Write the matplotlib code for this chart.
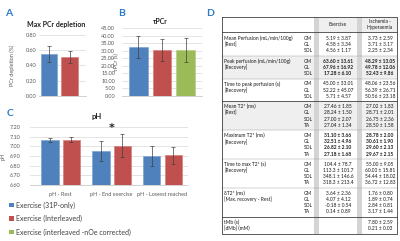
import matplotlib
matplotlib.use('Agg')
import matplotlib.pyplot as plt
from matplotlib.patches import Rectangle
from matplotlib.ticker import FormatStrFormatter, MultipleLocator

plt.rcParams['font.family'] = ['Lato', 'DejaVu Sans']

# ---------------- data ----------------
series_names = ["Exercise (31P-only)", "Exercise (Interleaved)",
                "Exercise (interleaved -nOe corrected)"]
series_colors = ['#4F81BD', '#C0504D', '#9BBB59']
edge_colors = ['#7FA3D0', '#D6807E', '#B7CF88']

pcr_depl = [0.55, 0.51]
pcr_depl_err = [0.105, 0.083]

tau_pcr = [32.4, 30.4, 30.4]
tau_pcr_err = [7.0, 7.3, 8.0]

ph_categories = ["pH - Rest", "pH - End exercise", "pH - Lowest reached"]
ph_31p = [7.065, 6.955, 6.900]
ph_31p_err = [0.02, 0.105, 0.100]
ph_inter = [7.070, 7.007, 6.910]
ph_inter_err = [0.025, 0.117, 0.088]

tbl_params = ["Mean Perfusion (mL/min/100g)", "Peak perfusion (mL/min/100g)",
              "Time to peak perfusion (s)", "Mean T2* (ms)", "Maximum T2* (ms)",
              "Time to max T2* (s)", "δT2* (ms)"]
tbl_conditions = ["[Rest]", "[Recovery]", "[Recovery]", "[Rest]", "[Recovery]",
                  "[Recovery]", "[Max. recovery - Rest]"]
tbl_muscles = [["GM", "GL", "SOL"], ["GM", "GL", "SOL"], ["GM", "GL", "SOL"],
               ["GM", "GL", "SOL", "TA"], ["GM", "GL", "SOL", "TA"],
               ["GM", "GL", "SOL", "TA"], ["GM", "GL", "SOL", "TA"]]
tbl_exercise = [["5.19 ± 3.87", "4.58 ± 3.34", "4.56 ± 1.17"],
                ["63.60 ± 13.61", "67.96 ± 16.92", "17.28 ± 6.10"],
                ["45.00 ± 33.01", "52.22 ± 45.07", "5.71 ± 4.57"],
                ["27.46 ± 1.85", "28.24 ± 1.50", "27.00 ± 2.07", "27.04 ± 1.34"],
                ["31.10 ± 3.66", "32.51 ± 4.96", "26.82 ± 2.10", "27.18 ± 1.68"],
                ["104.4 ± 78.7", "113.3 ± 101.7", "348.1 ± 146.6", "318.3 ± 213.4"],
                ["3.64 ± 2.36", "4.07 ± 4.12", "-0.18 ± 0.54", "0.14 ± 0.89"]]
tbl_ischemia = [["3.73 ± 2.59", "3.71 ± 3.17", "2.25 ± 2.34"],
                ["48.29 ± 13.05", "49.78 ± 12.06", "52.43 ± 9.86"],
                ["48.06 ± 23.56", "56.39 ± 26.71", "50.56 ± 23.18"],
                ["27.02 ± 1.83", "28.71 ± 2.01", "26.75 ± 2.36", "28.50 ± 1.58"],
                ["28.78 ± 2.00", "30.61 ± 1.90", "29.60 ± 2.13", "29.67 ± 2.15"],
                ["55.00 ± 9.05", "60.00 ± 15.81", "54.44 ± 18.02", "36.72 ± 12.83"],
                ["1.76 ± 0.80", "1.89 ± 0.74", "2.84 ± 0.81", "3.17 ± 1.44"]]
tbl_bold = [False, True, False, False, True, False, False]
tbl_shaded = [False, True, False, True, False, False, False]
mb_labels = ["tMb (s)", "[dMb] (mM)"]
mb_ischemia = ["7.80 ± 2.59", "0.21 ± 0.03"]

# ---------------- layout helpers ----------------
W, H = 400, 241
fig = plt.figure(figsize=(W / 100, H / 100), dpi=100)
fig.patch.set_facecolor('white')


def rect(l, t, r, b):
    return [l / W, 1 - b / H, (r - l) / W, (b - t) / H]


TICK_C = '#595959'
GRID_C = '#D9D9D9'
LETTER_C = '#2A7AC6'
ERR_KW = dict(ecolor='#404040', elinewidth=0.5, capsize=1.3, capthick=0.5)


def style_axes(ax, pad):
    for s in ax.spines.values():
        s.set_visible(False)
    ax.spines['bottom'].set_visible(True)
    ax.spines['bottom'].set_color('#BFBFBF')
    ax.spines['bottom'].set_linewidth(0.5)
    ax.grid(axis='y', color=GRID_C, linewidth=0.5)
    ax.set_axisbelow(True)
    ax.tick_params(axis='both', length=0, labelsize=4, colors=TICK_C, pad=pad)
    ax.tick_params(axis='x', pad=5)
    ax.set_xticks([])


# overlay axes in pixel coordinates for free text / table
ov = fig.add_axes([0, 0, 1, 1])
ov.set_xlim(0, W)
ov.set_ylim(H, 0)
ov.axis('off')
ov.set_zorder(-1)

# ---------------- Panel A ----------------
axA = fig.add_axes(rect(39, 35, 86, 96))
xa = list(range(len(pcr_depl)))
axA.bar(xa, pcr_depl, width=0.8, color=series_colors[:2],
        edgecolor=edge_colors[:2], linewidth=0.5,
        yerr=pcr_depl_err, error_kw=ERR_KW)
axA.set_ylim(0, 0.8)
axA.set_xlim(-0.49, 1.80)
axA.yaxis.set_major_locator(MultipleLocator(0.2))
axA.yaxis.set_major_formatter(FormatStrFormatter('%.2f'))
style_axes(axA, 1.5)
axA.set_ylabel('PCr depletion (%)', fontsize=4, color=TICK_C)
axA.yaxis.set_label_coords((15 - 39) / 47, 0.5)
ov.text(56, 24, 'Max PCr depletion', fontsize=5, fontweight='bold',
        ha='center', va='center', color='#222222')
ov.text(9, 13, 'A', fontsize=7.5, fontweight='bold', ha='center', va='center',
        color=LETTER_C)

# ---------------- Panel B ----------------
axB = fig.add_axes(rect(122, 28, 202, 96))
xb = list(range(len(tau_pcr)))
axB.bar(xb, tau_pcr, width=0.8, color=series_colors, edgecolor=edge_colors,
        linewidth=0.5, yerr=tau_pcr_err, error_kw=ERR_KW)
axB.set_ylim(0, 45)
axB.set_xlim(-0.70, 2.70)
axB.yaxis.set_major_locator(MultipleLocator(5))
axB.yaxis.set_major_formatter(FormatStrFormatter('%.2f'))
style_axes(axB, 5)
axB.set_ylabel('τPCr (s)', fontsize=4, color=TICK_C)
axB.yaxis.set_label_coords((119 - 122) / 80, 0.5)
ov.text(160, 21, 'τPCr', fontsize=5, fontweight='bold', ha='center',
        va='center', color='#222222')
ov.text(122, 13, 'B', fontsize=7.5, fontweight='bold', ha='center', va='center',
        color=LETTER_C)

# ---------------- Panel C ----------------
axC = fig.add_axes(rect(30, 127, 188, 185))
xc = list(range(len(ph_categories)))
off = 0.21
bw = 0.34
axC.bar([x - off for x in xc], ph_31p, width=bw, color=series_colors[0],
        edgecolor=edge_colors[0], linewidth=0.5, yerr=ph_31p_err, error_kw=ERR_KW)
axC.bar([x + off for x in xc], ph_inter, width=bw, color=series_colors[1],
        edgecolor=edge_colors[1], linewidth=0.5, yerr=ph_inter_err, error_kw=ERR_KW)
axC.set_ylim(6.6, 7.2)
axC.set_xlim(-0.6, 2.5)
axC.yaxis.set_major_locator(MultipleLocator(0.1))
axC.yaxis.set_major_formatter(FormatStrFormatter('%.2f'))
style_axes(axC, 7)
axC.set_xticks(xc)
axC.set_xticklabels(ph_categories)
axC.set_ylabel('pH', fontsize=4, color=TICK_C)
axC.yaxis.set_label_coords((6 - 30) / 158, 0.5)
axC.text(1, ph_inter[1] + ph_inter_err[1] + 0.01, '*',
         fontsize=8, fontweight='bold', ha='center', va='bottom', color='#222222',
         family='DejaVu Sans')
ov.text(97, 117, 'pH', fontsize=5.5, fontweight='bold', ha='center',
        va='center', color='#222222')
ov.text(10, 113, 'C', fontsize=7.5, fontweight='bold', ha='center', va='center',
        color=LETTER_C)

# ---------------- Legend ----------------
for i, (name, col) in enumerate(zip(series_names, series_colors)):
    y = 205 + i * 13.5
    ov.add_patch(Rectangle((9, y - 2.3), 4.6, 4.6, facecolor=col, edgecolor='none'))
    ov.text(15.5, y, name, fontsize=5, ha='left', va='center', color='#404040')

# ---------------- Panel D (table) ----------------
ov.text(210, 13, 'D', fontsize=7.5, fontweight='bold', ha='center', va='center',
        color=LETTER_C)

TL, TR = 222, 397
TT, HB = 17, 32
step, gap = 6.2, 4.1
y = 38.5
FS = 3.5
TC = '#1A1A1A'
X_MUS = 304
X_EX = 338
X_IS = 380

group_rows = []
for gi in range(len(tbl_params)):
    rows = []
    for ri in range(len(tbl_muscles[gi])):
        rows.append(y)
        y += step
    y += gap
    group_rows.append(rows)
mb_rows = [y, y + step]
TB = mb_rows[-1] + (step + gap) / 2

half = (step + gap) / 2
# shaded groups
for gi, rows in enumerate(group_rows):
    if tbl_shaded[gi]:
        ov.add_patch(Rectangle((TL, rows[0] - half), TR - TL,
                               rows[-1] - rows[0] + 2 * half,
                               facecolor='#EFEFEF', edgecolor='none'))
# header fill
ov.add_patch(Rectangle((319, TT), 38, HB - TT, facecolor='#EFEFEF', edgecolor='none'))
ov.add_patch(Rectangle((362, TT), TR - 362, HB - TT, facecolor='#EFEFEF', edgecolor='none'))
# gray vertical bands
for bx in (314, 357):
    ov.add_patch(Rectangle((bx, TT), 5, TB - TT, facecolor='#D4D4D4', edgecolor='none'))

ov.text(X_EX, (TT + HB) / 2, 'Exercise', fontsize=FS, ha='center', va='center', color=TC)
ov.text(X_IS, (TT + HB) / 2 - 3, 'Ischemia -', fontsize=FS, ha='center', va='center', color=TC)
ov.text(X_IS, (TT + HB) / 2 + 3, 'Hyperaemia', fontsize=FS, ha='center', va='center', color=TC)

for gi, rows in enumerate(group_rows):
    fw = 'bold' if tbl_bold[gi] else 'normal'
    ov.text(TL + 2.5, rows[0], tbl_params[gi], fontsize=FS, ha='left', va='center', color=TC)
    ov.text(TL + 2.5, rows[1], tbl_conditions[gi], fontsize=FS, ha='left', va='center', color=TC)
    for ri, ry in enumerate(rows):
        ov.text(X_MUS, ry, tbl_muscles[gi][ri], fontsize=FS, ha='left', va='center', color=TC)
        ov.text(X_EX, ry, tbl_exercise[gi][ri], fontsize=FS, ha='center', va='center',
                color=TC, fontweight=fw)
        ov.text(X_IS, ry, tbl_ischemia[gi][ri], fontsize=FS, ha='center', va='center',
                color=TC, fontweight=fw)
    # separator after group
    ly = rows[-1] + half
    strong = gi in (2, 6)
    ov.plot([TL, TR], [ly, ly], color='#404040' if strong else '#A6A6A6',
            lw=0.6 if strong else 0.35)

for ry, lab, val in zip(mb_rows, mb_labels, mb_ischemia):
    ov.text(TL + 2.5, ry, lab, fontsize=FS, ha='left', va='center', color=TC)
    ov.text(X_IS, ry, val, fontsize=FS, ha='center', va='center', color=TC)

# borders
ov.plot([TL, TR, TR, TL, TL], [TT, TT, TB, TB, TT], color='#404040', lw=0.6)
ov.plot([TL, TR], [HB, HB], color='#404040', lw=0.6)

fig.savefig('out.png', dpi=100)
